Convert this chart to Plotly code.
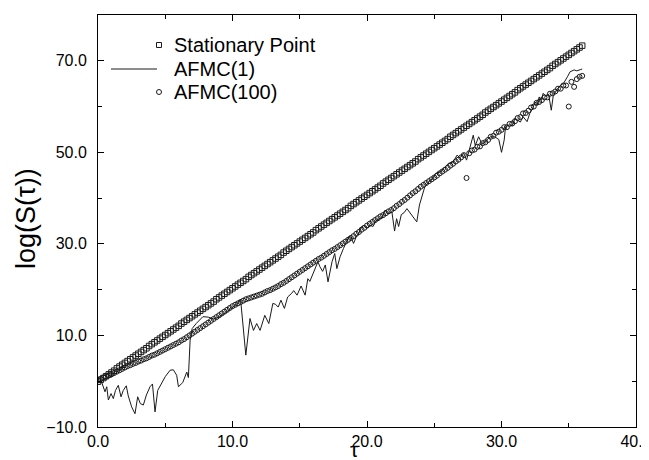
import plotly.graph_objects as go

# ---- data ----
tau_grid = [round(0.2 * i, 1) for i in range(181)]  # 0.0 .. 36.0

stationary = [
    -0.1, 0.3, 0.7, 1.1, 1.5, 1.9, 2.3, 2.8, 3.2, 3.6,
    4.0, 4.4, 4.8, 5.2, 5.6, 6.0, 6.4, 6.8, 7.2, 7.7,
    8.1, 8.5, 8.9, 9.3, 9.7, 10.1, 10.5, 10.9, 11.3, 11.7,
    12.1, 12.6, 13.0, 13.4, 13.8, 14.2, 14.6, 15.0, 15.4, 15.8,
    16.2, 16.6, 17.0, 17.4, 17.9, 18.3, 18.7, 19.1, 19.5, 19.9,
    20.3, 20.7, 21.1, 21.5, 21.9, 22.3, 22.8, 23.2, 23.6, 24.0,
    24.4, 24.8, 25.2, 25.6, 26.0, 26.4, 26.8, 27.2, 27.6, 28.1,
    28.5, 28.9, 29.3, 29.7, 30.1, 30.5, 30.9, 31.3, 31.7, 32.1,
    32.5, 33.0, 33.4, 33.8, 34.2, 34.6, 35.0, 35.4, 35.8, 36.2,
    36.6, 37.0, 37.4, 37.8, 38.3, 38.7, 39.1, 39.5, 39.9, 40.3,
    40.7, 41.1, 41.5, 41.9, 42.3, 42.7, 43.2, 43.6, 44.0, 44.4,
    44.8, 45.2, 45.6, 46.0, 46.4, 46.8, 47.2, 47.6, 48.0, 48.5,
    48.9, 49.3, 49.7, 50.1, 50.5, 50.9, 51.3, 51.7, 52.1, 52.5,
    52.9, 53.4, 53.8, 54.2, 54.6, 55.0, 55.4, 55.8, 56.2, 56.6,
    57.0, 57.4, 57.8, 58.2, 58.7, 59.1, 59.5, 59.9, 60.3, 60.7,
    61.1, 61.5, 61.9, 62.3, 62.7, 63.1, 63.6, 64.0, 64.4, 64.8,
    65.2, 65.6, 66.0, 66.4, 66.8, 67.2, 67.6, 68.0, 68.4, 68.9,
    69.3, 69.7, 70.1, 70.5, 70.9, 71.3, 71.7, 72.1, 72.5, 72.9,
    73.3,
]

afmc100 = [
    0.2, 0.5, 0.8, 1.0, 1.3,
    1.5, 1.8, 2.1, 2.4, 2.7,
    3.0, 3.3, 3.5, 3.8, 4.0,
    4.3, 4.5, 4.8, 5.0, 5.3,
    5.6, 5.8, 6.1, 6.4, 6.7,
    7.0, 7.3, 7.6, 7.9, 8.2,
    8.5, 8.9, 9.2, 9.6, 10.0,
    10.4, 10.8, 11.2, 11.6, 12.0,
    12.4, 12.8, 13.2, 13.6, 14.0,
    14.4, 14.8, 15.2, 15.6, 16.0,
    16.4, 16.7, 17.0, 17.3, 17.6,
    17.9, 18.1, 18.3, 18.5, 18.7,
    18.9, 19.1, 19.4, 19.7, 19.9,
    20.2, 20.5, 20.8, 21.2, 21.5,
    21.9, 22.3, 22.7, 23.1, 23.5,
    23.9, 24.3, 24.7, 25.1, 25.5,
    25.9, 26.3, 26.7, 27.0, 27.4,
    27.8, 28.2, 28.6, 28.9, 29.3,
    29.7, 30.1, 30.5, 30.9, 31.3,
    31.7, 32.2, 32.6, 33.1, 33.5,
    34.0, 34.4, 34.8, 35.2, 35.6,
    36.0, 36.3, 36.7, 37.1, 37.4,
    37.8, 38.3, 38.7, 39.2, 39.6,
    40.1, 40.6, 41.1, 41.5, 42.0,
    42.5, 42.9, 43.3, 43.7, 44.1,
    44.5, 44.9, 45.4, 45.8, 46.2,
    46.6, 47.1, 47.5, 48.0, 48.4,
    48.9, 49.4, 44.4, 49.8, 50.4,
    50.6, 51.2, 51.3, 52.0, 52.2,
    52.7, 53.4, 53.6, 54.3, 54.5,
    54.9, 55.5, 55.5, 56.2, 56.3,
    56.8, 57.5, 57.7, 58.5, 58.6,
    59.1, 59.8, 60.0, 60.8, 61.0,
    61.4, 62.0, 62.0, 62.8, 62.9,
    63.3, 63.9, 63.9, 64.6, 64.6,
    60.0, 65.4, 64.3, 66.0, 66.5,
    66.7,
]

afmc1_tau = [
    0.05, 0.27, 0.52, 0.65, 0.77, 0.97, 1.14, 1.3, 1.51, 1.71,
    1.88, 2.1, 2.25, 2.5, 2.75, 2.95, 3.15, 3.37, 3.6, 3.87,
    4.05, 4.24, 4.44, 4.74, 5.0, 5.36, 5.6, 5.85, 5.98, 6.3,
    6.6, 6.72, 6.85, 7.0, 7.3, 7.8, 8.2, 8.6, 9.0, 9.5,
    10.0, 10.3, 10.6, 10.99, 11.3, 11.56, 11.8, 12.05, 12.4, 12.7,
    13.0, 13.2, 13.4, 13.6, 13.86, 14.1, 14.4, 14.55, 14.8, 15.1,
    15.4, 15.6, 15.75, 15.9, 16.15, 16.35, 16.5, 16.7, 16.9, 17.1,
    17.4, 17.6, 17.76, 18.0, 18.25, 18.5, 18.65, 18.8, 19.0, 19.25,
    19.4, 19.57, 19.75, 20.0, 20.2, 20.45, 20.7, 20.9, 21.15, 21.35,
    21.55, 21.85, 22.05, 22.2, 22.35, 22.55, 22.75, 22.97, 23.2, 23.5,
    23.7, 23.9, 24.1, 24.3, 24.6, 24.85, 25.1, 25.45, 25.7, 26.06,
    26.4, 26.7, 26.9, 27.2, 27.4, 27.55, 27.75, 27.9, 28.05, 28.3,
    28.55, 28.8, 29.0, 29.2, 29.5, 29.8, 30.0, 30.2, 30.3, 30.6,
    30.8, 31.0, 31.2, 31.4, 31.6, 31.9, 32.1, 32.3, 32.5, 32.65,
    32.8, 32.95, 33.1, 33.3, 33.5, 33.7, 33.85, 34.1, 34.4, 34.6,
    34.9, 35.1, 35.4, 35.6, 35.9, 36.0,
]
afmc1 = [
    0.0, -0.2, -2.3, -1.2, -4.1, -2.7, -3.8, -2.0, -0.9, -3.4,
    -2.0, -1.0, -3.2, -5.6, -7.1, -3.4, -4.9, -5.2, -3.0, -1.2,
    -0.6, -6.7, -2.0, -0.5, 1.0, 2.4, 2.5, 1.3, -1.2, -0.3,
    2.0, 0.8, 9.0, 11.5, 12.6, 14.1, 14.0, 13.6, 14.0, 15.0,
    16.0, 16.8, 17.9, 5.7, 13.7, 11.1, 12.6, 11.1, 14.4, 12.6,
    17.0, 16.8, 16.2, 17.7, 15.9, 18.4, 19.2, 19.8, 18.8, 20.8,
    18.8, 22.4, 21.8, 22.8, 24.6, 26.1, 25.0, 24.0, 25.4, 21.7,
    26.1, 27.9, 24.6, 27.2, 29.0, 30.8, 31.6, 31.5, 30.1, 31.9,
    32.3, 33.7, 34.0, 33.4, 34.1, 33.8, 35.2, 35.4, 35.9, 37.4,
    36.6, 37.0, 32.8, 35.5, 33.8, 36.4, 36.8, 37.7, 36.8, 35.6,
    34.8, 38.5, 40.6, 42.5, 43.6, 44.2, 45.4, 45.7, 46.5, 47.6,
    47.9, 49.4, 48.8, 49.8, 48.3, 49.8, 52.3, 53.75, 51.5, 53.4,
    51.8, 52.3, 53.0, 53.4, 53.4, 52.8, 50.0, 52.7, 55.6, 56.0,
    55.8, 57.4, 57.0, 56.6, 57.8, 56.7, 58.5, 59.5, 61.0, 60.3,
    62.1, 61.4, 62.9, 62.2, 62.7, 59.2, 62.4, 63.6, 64.7, 65.0,
    66.5, 67.6, 68.0, 67.8, 68.1, 68.2,
]

series_names = ["Stationary Point", "AFMC(1)", "AFMC(100)"]
x_ticks = [0, 10, 20, 30, 40]
y_ticks = [-10, 10, 30, 50, 70]
x_title = "τ"
y_title = "log(S(τ))"

FONT = "Liberation Sans, Arial, Helvetica, sans-serif"
INK = "#1a1a1a"

# The page body has an 8px margin, so the figure is sized to the window
# minus that offset; geometry below is in figure pixels.
OFF = 8
W, H = 649 - OFF, 460 - OFF
ML, MR, MT, MB = 90, 13, 7, 33
PW, PH = W - ML - MR, H - MT - MB


def px(xw):
    """window pixel x -> paper x"""
    return (xw - OFF - ML) / PW


def py(yw):
    """window pixel y -> paper y"""
    return (H - MB - (yw - OFF)) / PH


fig = go.Figure()
fig.add_trace(go.Scatter(
    x=tau_grid, y=stationary, mode="markers", name=series_names[0], showlegend=False,
    marker=dict(symbol="square-open", size=5.5, color=INK, line=dict(width=1, color=INK)),
))
fig.add_trace(go.Scatter(
    x=afmc1_tau, y=afmc1, mode="lines", name=series_names[1], showlegend=False,
    line=dict(color=INK, width=1),
))
fig.add_trace(go.Scatter(
    x=tau_grid, y=afmc100, mode="markers", name=series_names[2], showlegend=False,
    marker=dict(symbol="circle-open", size=5, color=INK, line=dict(width=1, color=INK)),
))

# legend (drawn by hand so that the row spacing matches the original)
rows = [45, 69, 92]
shapes = [
    dict(type="rect", xref="paper", yref="paper",
         x0=px(156.5), x1=px(161.5), y0=py(rows[0] + 2.5), y1=py(rows[0] - 2.5),
         line=dict(color=INK, width=1), fillcolor="rgba(0,0,0,0)"),
    dict(type="line", xref="paper", yref="paper",
         x0=px(111), x1=px(157), y0=py(rows[1]), y1=py(rows[1]),
         line=dict(color=INK, width=1)),
    dict(type="circle", xref="paper", yref="paper",
         x0=px(156.5), x1=px(161.5), y0=py(rows[2] + 2.5), y1=py(rows[2] - 2.5),
         line=dict(color=INK, width=1), fillcolor="rgba(0,0,0,0)"),
]
annotations = [
    dict(text=name, xref="paper", yref="paper", x=px(172), y=py(r),
         xanchor="left", yanchor="middle", showarrow=False,
         font=dict(size=20, family=FONT, color="black"))
    for name, r in zip(series_names, rows)
]
annotations.append(dict(
    text=x_title, xref="paper", yref="paper", x=px(354), y=py(460),
    xanchor="center", yanchor="bottom", yshift=-3, showarrow=False,
    font=dict(size=21, family=FONT, color="black"),
))
annotations.append(dict(
    text=y_title, xref="paper", yref="paper", x=px(26), y=py(219),
    xanchor="center", yanchor="middle", textangle=-90, showarrow=False,
    font=dict(size=27, family=FONT, color="black"),
))

fig.update_layout(
    width=W, height=H,
    margin=dict(l=ML, r=MR, t=MT, b=MB),
    paper_bgcolor="white", plot_bgcolor="white",
    font=dict(family=FONT, color="black", size=16),
    showlegend=False,
    shapes=shapes,
    annotations=annotations,
)
fig.update_xaxes(
    range=[0, 40], tickvals=x_ticks, ticktext=[f"{v:.1f}" for v in x_ticks],
    ticks="inside", ticklen=6, tickcolor="black",
    minor=dict(dtick=5, tick0=0, ticks="inside", ticklen=4, tickcolor="black"),
    showline=True, linecolor="black", linewidth=1, mirror="ticks",
    showgrid=False, zeroline=False, automargin=False,
    tickfont=dict(size=16, family=FONT), ticklabeloverflow="allow",
    ticklabelstandoff=0,
)
fig.update_yaxes(
    range=[-10, 80], tickvals=y_ticks,
    ticktext=[f"{v:.1f}".replace("-", "\u2212") for v in y_ticks],
    ticks="inside", ticklen=6, tickcolor="black",
    minor=dict(dtick=10, tick0=0, ticks="inside", ticklen=4, tickcolor="black"),
    showline=True, linecolor="black", linewidth=1, mirror="ticks",
    showgrid=False, zeroline=False, automargin=False,
    tickfont=dict(size=16, family=FONT), ticklabeloverflow="allow",
    ticklabelstandoff=7,
)

fig.write_html("out.html")
